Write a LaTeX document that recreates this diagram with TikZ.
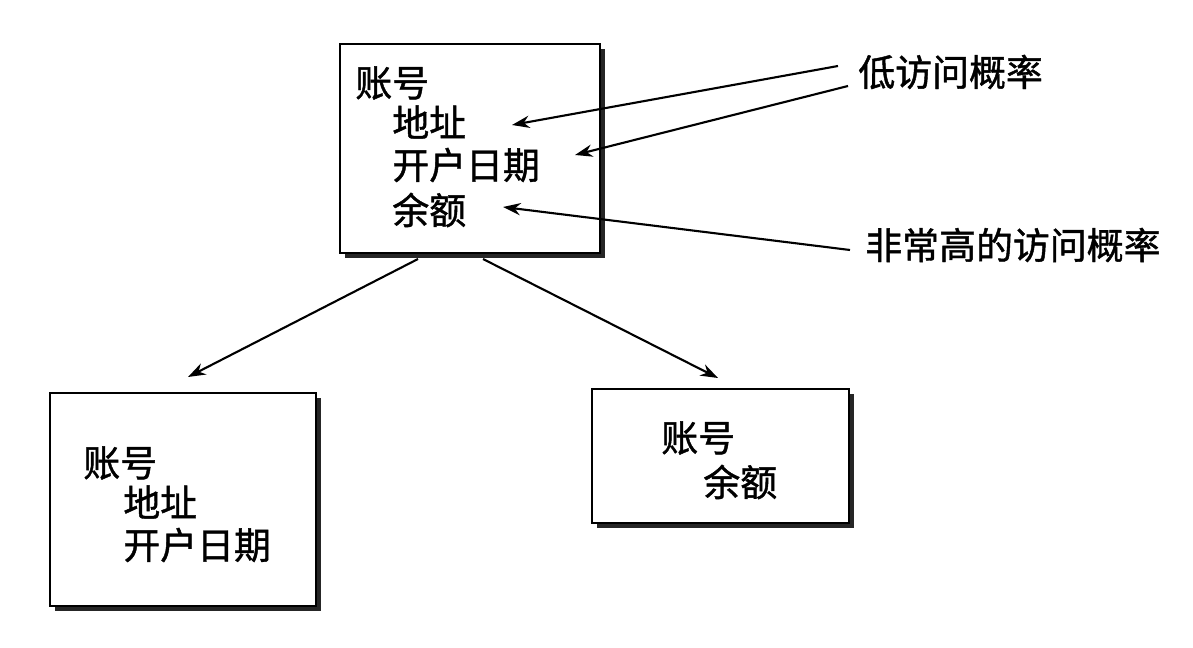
\documentclass[tikz,border=0pt]{standalone}
\usepackage{fontspec}
\setmainfont[FakeBold=1.2]{Noto Sans CJK SC}
\usetikzlibrary{arrows.meta,calc}
\begin{document}
\begin{tikzpicture}[x=0.02cm,y=-0.02cm,
  txt/.style={anchor=west,inner sep=0pt,font=\fontsize{21}{25}\selectfont},
  boxline/.style={draw=black,line width=1.4pt,fill=white},
  shadow/.style={fill=black!85},
  arr/.style={-{Stealth[length=10pt,width=7pt]},line width=1.2pt}]
\useasboundingbox[fill=white] (0,0) rectangle (1193,648);
% top box
\fill[shadow] (345,49) rectangle (605,258);
\draw[boxline] (340,44) rectangle (600,253);
\node[txt] (a1) at (355,83) {账号};
\node[txt] (a2) at (392,122) {地址};
\node[txt] (a3) at (392,165) {开户日期};
\node[txt] (a4) at (392,210) {余额};
% bottom-left box
\fill[shadow] (55,398) rectangle (321,611);
\draw[boxline] (50,393) rectangle (316,606);
\node[txt] (b1) at (83,463) {账号};
\node[txt] (b2) at (123,502) {地址};
\node[txt] (b3) at (123,545) {开户日期};
% bottom-right box
\fill[shadow] (597,394) rectangle (854,528);
\draw[boxline] (592,389) rectangle (849,523);
\node[txt] (c1) at (661,438) {账号};
\node[txt] (c2) at (703,482) {余额};
% labels
\node[txt] (low) at (858,72) {低访问概率};
\node[txt] (high) at (865,245) {非常高的访问概率};
% arrow tips
\coordinate (t1) at (512,125);
\coordinate (t2) at (575,155);
\coordinate (t3) at (503,207);
\coordinate (s1) at (838,66);
\coordinate (s2) at (848,86);
\coordinate (s3) at (850,250);
\draw[arr] (s1) -- (t1);
\draw[arr] (s2) -- (t2);
\draw[arr] (s3) -- (t3);
% split arrows
\coordinate (o1) at (418,259);
\coordinate (o2) at (483,259);
\coordinate (e1) at (188,377);
\coordinate (e2) at (718,378);
\draw[arr] (o1) -- (e1);
\draw[arr] (o2) -- (e2);
\end{tikzpicture}
\end{document}
